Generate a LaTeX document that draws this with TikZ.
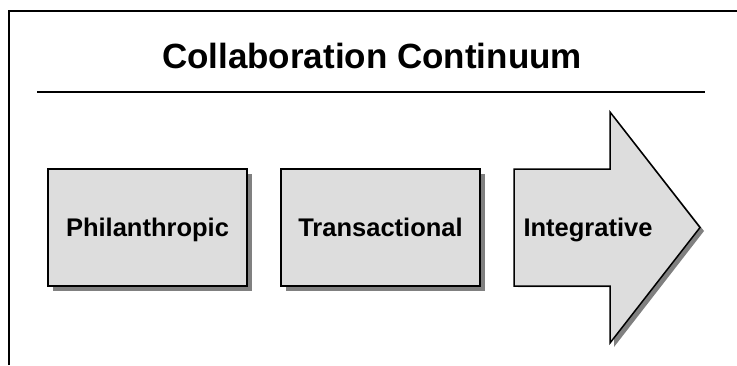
\documentclass[tikz,border=0pt]{standalone}
\usepackage{fontspec}
\setmainfont{Liberation Sans}
\usetikzlibrary{shadows}
\definecolor{boxfill}{HTML}{DDDDDD}
\definecolor{shadowgray}{HTML}{808080}
\begin{document}
\begin{tikzpicture}[x=1pt,y=-1pt,
  framerule/.style={line width=2.2pt,black},
  stagebox/.style={draw=black,line width=1.5pt,fill=boxfill,
    minimum width=199pt,minimum height=117pt,inner sep=0pt,
    text height=18pt,text depth=0pt,
    font=\fontsize{25.5}{28}\selectfont\bfseries,
    drop shadow={shadow xshift=5pt,shadow yshift=-5pt,fill=shadowgray,opacity=1}},
  stagelabel/.style={font=\fontsize{25.5}{28}\selectfont\bfseries,inner sep=0pt,
    text height=18pt,text depth=0pt},
  titletext/.style={font=\fontsize{35}{40}\selectfont\bfseries,inner sep=0pt}]
\useasboundingbox (0,0) rectangle (737,365);
% frame
\draw[framerule] (9,365) -- (9,11) -- (737,11);
% title
\node[titletext] (title) at (372,56) {Collaboration Continuum};
\draw[line width=2pt] (37,91.5) -- (705,91.5);
% boxes
\node[stagebox] (phil) at (147.5,227.5) {Philanthropic};
\node[stagebox] (trans) at (380.5,227.5) {Transactional};
% arrow shadow and arrow
\fill[shadowgray] (518,173) -- (614,173) -- (614,116) -- (704,231) -- (614,347) -- (614,287) -- (518,287) -- cycle;
\draw[line width=1.5pt,fill=boxfill,line join=miter] (514,169) -- (610,169) -- (610,112) -- (700,227.5) -- (610,343) -- (610,286) -- (514,286) -- cycle;
\node[stagelabel] (integ) at (588,227.5) {Integrative};
\end{tikzpicture}
\end{document}
